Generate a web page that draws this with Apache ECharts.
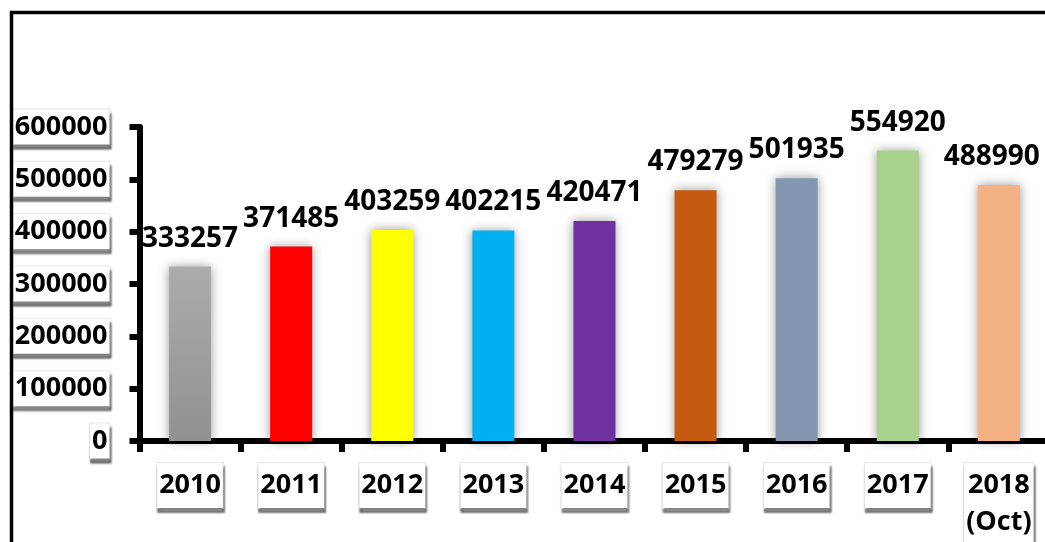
<!DOCTYPE html>
<html>
<head>
<meta charset="utf-8">
<script src="https://cdn.jsdelivr.net/npm/echarts@6/dist/echarts.min.js"></script>
<style>
html,body{margin:0;padding:0;background:#fff;}
#c{width:1045px;height:542px;}
</style>
</head>
<body>
<div id="c"></div>
<script>
const categories = ['2010','2011','2012','2013','2014','2015','2016','2017','2018\n(Oct)'];
const values = [333257,371485,403259,402215,420471,479279,501935,554920,488990];
const barColors = [null,'#FF0000','#FFFF00','#00B0F0','#7030A0','#C55A11','#8497B0','#A9D18E','#F4B183'];
const yTicks = [0,100000,200000,300000,400000,500000,600000];

const FONT = 'Open Sans';
const chart = echarts.init(document.getElementById('c'), null, {renderer:'canvas'});

const boxLabel = {
  fontFamily: FONT, fontWeight: 'bold', fontSize: 27, color: '#000',
  backgroundColor: '#fff', borderColor: '#e6e6e6', borderWidth: 1,
  padding: [4, 2, 4, 2],
  shadowColor: 'rgba(0,0,0,0.45)', shadowOffsetX: 1, shadowOffsetY: 4, shadowBlur: 2
};

const lastIdx = values.length - 1;
const data = values.map((v, i) => {
  const item = {
    value: v,
    itemStyle: {
      color: i === 0
        ? new echarts.graphic.LinearGradient(0, 0, 0, 1, [{offset: 0, color: '#acacac'}, {offset: 1, color: '#919191'}])
        : barColors[i]
    }
  };
  if (i === lastIdx) item.label = {offset: [-7, 0]};
  return item;
});

chart.setOption({
  animation: false,
  backgroundColor: '#fff',
  graphic: [{
    type: 'rect', left: 9, top: 10, z: 100,
    shape: {x: 9, y: 10, width: 1200, height: 700},
    style: {fill: 'none', stroke: '#000', lineWidth: 3.5}
  }],
  grid: {left: 139.5, top: 127, right: -4.4, bottom: 101, containLabel: false, outerBoundsMode: 'none'},
  xAxis: {
    type: 'category', data: categories,
    axisLine: {lineStyle: {color: '#000', width: 6}},
    axisTick: {show: true, length: 11, lineStyle: {color: '#000', width: 6}},
    axisLabel: Object.assign({margin: 22, lineHeight: 37, interval: 0}, boxLabel),
    splitLine: {show: false}
  },
  yAxis: {
    type: 'value', min: 0, max: 600000, interval: 100000,
    axisLine: {show: true, lineStyle: {color: '#000', width: 6}},
    axisTick: {show: true, length: 10, lineStyle: {color: '#000', width: 6}},
    axisLabel: Object.assign({margin: 30, formatter: v => yTicks.includes(v) ? String(v) : ''}, boxLabel),
    splitLine: {show: false}
  },
  series: [{
    type: 'bar', data: data, barWidth: 42,
    itemStyle: {shadowColor: 'rgba(0,0,0,0.4)', shadowBlur: 10},
    label: {
      show: true, position: 'top', distance: 14,
      fontFamily: FONT, fontWeight: 'bold', fontSize: 28, color: '#000'
    }
  }]
});
</script>
</body>
</html>
